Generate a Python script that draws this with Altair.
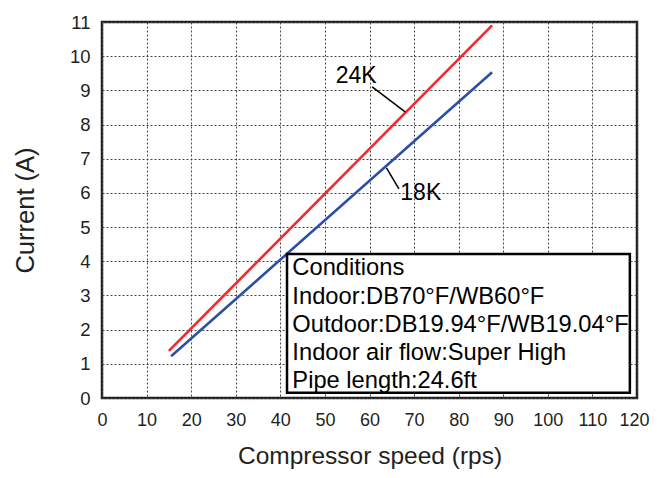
import altair as alt
import pandas as pd

# Series data
speed_24k = [15, 87.5]
current_24k = [1.38, 10.9]
speed_18k = [15.5, 87.5]
current_18k = [1.22, 9.53]

# Series labels and leader lines
label_names = ["24K", "18K"]
label_x = [57.0, 71.5]
label_y = [9.42, 6.0]
leader_x = [60.6, 63.8]
leader_y = [9.10, 6.73]
leader_x2 = [68.0, 66.6]
leader_y2 = [8.37, 6.12]

# Conditions box
box_x = [41.5]
box_x2 = [118.4]
box_y = [0.15]
box_y2 = [4.21]
cond_lines = [
    "Conditions",
    "Indoor:DB70°F/WB60°F",
    "Outdoor:DB19.94°F/WB19.04°F",
    "Indoor air flow:Super High",
    "Pipe length:24.6ft",
]
cond_y = [3.80, 2.96, 2.14, 1.32, 0.50]
cond_x = 42.7

x_ticks = list(range(0, 121, 10))
y_ticks = list(range(0, 12))

FONT = "Liberation Sans"

lines_df = pd.DataFrame(
    {"x": speed_24k + speed_18k,
     "y": current_24k + current_18k,
     "model": ["24K"] * len(speed_24k) + ["18K"] * len(speed_18k)}
)

xs = alt.Scale(domain=[0, 120], nice=False, zero=True)
ys = alt.Scale(domain=[0, 11], nice=False, zero=True)

xax = alt.Axis(values=x_ticks, title="Compressor speed (rps)", grid=True,
               gridDash=[2, 2], gridColor="#444444", gridWidth=1,
               ticks=False, domain=False, labelFontSize=18, labelFont=FONT,
               labelColor="#231f20", labelPadding=13, titleFontSize=24.5,
               titleFont=FONT, titleFontWeight="normal", titleColor="#231f20",
               titlePadding=15, labelFlush=False, labelOverlap=False,
               labelAlign=alt.condition("datum.value == 120", alt.value("right"),
                                        alt.value("center")),
               labelOffset=alt.condition("datum.value == 120", alt.value(12),
                                         alt.value(0)))
yax = alt.Axis(values=y_ticks, title="Current (A)", grid=True,
               gridDash=[2, 2], gridColor="#444444", gridWidth=1,
               ticks=False, domain=False, labelFontSize=18.5, labelFont=FONT,
               labelColor="#231f20", labelPadding=12, titleFontSize=25.5,
               titleFont=FONT, titleFontWeight="normal", titleColor="#231f20",
               titlePadding=31, labelFlush=False, labelOverlap=False)

X = alt.X("x:Q", scale=xs, axis=xax)
Y = alt.Y("y:Q", scale=ys, axis=yax)

lines = alt.Chart(lines_df).mark_line(strokeWidth=2.6, strokeCap="butt").encode(
    x=X, y=Y,
    color=alt.Color("model:N", scale=alt.Scale(domain=["24K", "18K"],
                                               range=["#ee2b2e", "#2b4fa5"]),
                    legend=None),
    detail="model:N",
)

leader_df = pd.DataFrame({"x": leader_x, "y": leader_y, "x2": leader_x2, "y2": leader_y2})
leaders = alt.Chart(leader_df).mark_rule(color="black", strokeWidth=1.5).encode(
    x=X, y=Y, x2="x2:Q", y2="y2:Q")

lab_df = pd.DataFrame({"t": label_names, "x": label_x, "y": label_y})
labels = alt.Chart(lab_df).mark_text(fontSize=23, font=FONT, color="black",
                                     align="center", baseline="middle").encode(
    x=X, y=Y, text="t:N")

box_df = pd.DataFrame({"x": box_x, "x2": box_x2, "y": box_y, "y2": box_y2})
box = alt.Chart(box_df).mark_rect(fill="white", stroke="black", strokeWidth=2.5).encode(
    x=X, x2="x2:Q", y=Y, y2="y2:Q")

cond_df = pd.DataFrame({"t": cond_lines, "y": cond_y, "x": [cond_x] * len(cond_lines)})
cond = alt.Chart(cond_df).mark_text(fontSize=23.7, font=FONT, color="black",
                                    align="left", baseline="middle").encode(
    x=X, y=Y, text="t:N")

chart = alt.layer(lines, leaders, labels, box, cond).properties(
    width=535, height=376,
    autosize=alt.AutoSizeParams(type="none"),
    padding={"left": 94, "top": 14, "right": 12, "bottom": 71},
).configure_view(stroke="#231f20", strokeWidth=2.5)

chart.save("out.html", embed_options={"renderer": "svg", "actions": False})
